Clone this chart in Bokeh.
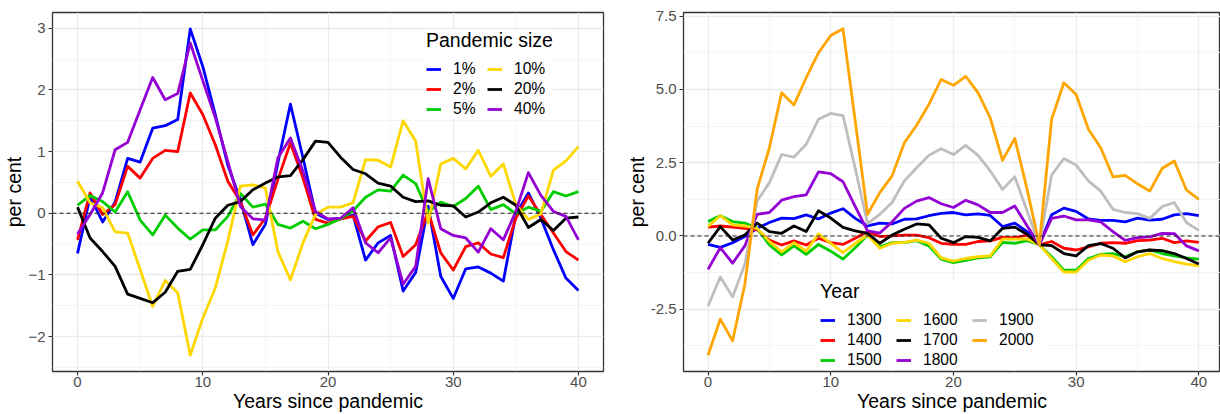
import numpy as np
from bokeh.plotting import figure
from bokeh.models import Range1d, FixedTicker, Legend, LegendItem, Span, NumeralTickFormatter
from bokeh.layouts import row
from bokeh.embed import file_html
from bokeh.resources import INLINE

# ---------------- data ----------------
years = list(range(41))

size_labels = ["1%", "2%", "5%", "10%", "20%", "40%"]
size_colors = ["#0000FF", "#FF0000", "#00CD00", "#FFD700", "#000000", "#9400D3"]
size_1 = [-0.65, 0.27, -0.14, 0.18, 0.89, 0.83, 1.38, 1.42, 1.52, 2.99, 2.38,
          1.6, 0.78, 0.22, -0.51, -0.18, 0.82, 1.77, 0.9, 0.0, -0.1,
          -0.09, -0.03, -0.76, -0.48, -0.36, -1.26, -0.96, 0.11, -1.02, -1.38,
          -0.9, -0.87, -0.97, -1.1, -0.02, 0.33, -0.08, -0.59, -1.05, -1.25]
size_2 = [-0.43, 0.33, -0.02, 0.14, 0.76, 0.57, 0.89, 1.02, 1.0, 1.95, 1.6,
          1.11, 0.52, 0.19, -0.35, -0.08, 0.55, 1.14, 0.57, -0.1, -0.16,
          -0.09, -0.05, -0.45, -0.22, -0.15, -0.7, -0.51, 0.03, -0.64, -0.92,
          -0.54, -0.48, -0.66, -0.72, -0.08, 0.28, -0.02, -0.32, -0.62, -0.76]
size_5 = [0.13, 0.29, 0.19, 0.02, 0.35, -0.11, -0.35, -0.03, -0.24, -0.42, -0.27,
          -0.27, -0.05, 0.32, 0.1, 0.15, -0.18, -0.24, -0.13, -0.25, -0.18,
          -0.09, 0.04, 0.26, 0.38, 0.36, 0.62, 0.48, 0.02, 0.18, 0.11,
          0.24, 0.44, 0.06, 0.14, -0.01, 0.1, 0.03, 0.35, 0.28, 0.35]
size_10 = [0.52, 0.17, 0.09, -0.3, -0.32, -0.91, -1.51, -1.09, -1.29, -2.3, -1.7,
           -1.21, -0.45, 0.44, 0.46, 0.41, -0.62, -1.08, -0.48, -0.02, 0.1,
           0.1, 0.17, 0.87, 0.86, 0.75, 1.5, 1.17, -0.16, 0.8, 0.89,
           0.72, 1.02, 0.6, 0.8, 0.14, -0.1, -0.01, 0.7, 0.85, 1.08]
size_20 = [0.1, -0.4, -0.62, -0.86, -1.31, -1.38, -1.45, -1.28, -0.94, -0.91, -0.51,
           -0.08, 0.13, 0.19, 0.38, 0.49, 0.59, 0.61, 0.87, 1.17, 1.15,
           0.91, 0.71, 0.64, 0.49, 0.44, 0.26, 0.19, 0.2, 0.13, 0.12,
           -0.06, 0.02, 0.17, 0.26, 0.13, -0.23, -0.1, -0.28, -0.08, -0.06]
size_40 = [-0.34, -0.02, 0.33, 1.03, 1.15, 1.68, 2.2, 1.84, 1.94, 2.76, 2.15,
           1.55, 0.84, 0.11, -0.09, -0.11, 0.9, 1.22, 0.68, 0.03, -0.09,
           -0.08, 0.09, -0.48, -0.64, -0.4, -1.15, -0.86, 0.56, -0.25, -0.36,
           -0.4, -0.63, -0.25, -0.43, 0.03, 0.66, 0.29, 0.03, -0.05, -0.43]

year_labels = ["1300", "1400", "1500", "1600", "1700", "1800", "1900", "2000"]
year_colors = ["#0000FF", "#FF0000", "#00CD00", "#FFD700", "#000000", "#9400D3", "#BEBEBE", "#FFA500"]
y1300 = [-0.29, -0.39, -0.23, -0.02, 0.26, 0.46, 0.61, 0.59, 0.72, 0.58, 0.78,
         0.93, 0.6, 0.34, 0.44, 0.41, 0.57, 0.58, 0.69, 0.77, 0.8,
         0.72, 0.75, 0.7, 0.32, 0.44, 0.15, -0.3, 0.72, 0.95, 0.84,
         0.58, 0.53, 0.53, 0.48, 0.61, 0.54, 0.57, 0.72, 0.76, 0.69]
y1400 = [0.3, 0.34, 0.3, 0.26, 0.21, -0.14, -0.31, -0.17, -0.31, -0.08, -0.23,
         -0.29, -0.08, 0.15, -0.02, 0.0, 0.03, 0.03, -0.06, -0.25, -0.29,
         -0.29, -0.19, -0.17, -0.05, -0.06, 0.03, -0.3, -0.19, -0.42, -0.48,
         -0.37, -0.25, -0.23, -0.25, -0.16, -0.14, -0.08, -0.23, -0.17, -0.22]
y1500 = [0.49, 0.69, 0.49, 0.44, 0.26, -0.31, -0.65, -0.34, -0.63, -0.29, -0.52,
         -0.79, -0.4, 0.03, -0.37, -0.23, -0.23, -0.16, -0.34, -0.79, -0.91,
         -0.83, -0.75, -0.71, -0.22, -0.25, -0.16, -0.3, -0.71, -1.17, -1.17,
         -0.77, -0.63, -0.6, -0.71, -0.54, -0.48, -0.6, -0.68, -0.75, -0.79]
y1600 = [0.32, 0.69, 0.38, 0.34, 0.26, -0.19, -0.54, -0.23, -0.52, 0.07, -0.25,
         -0.57, -0.25, 0.03, -0.42, -0.25, -0.22, -0.14, -0.25, -0.75, -0.86,
         -0.77, -0.71, -0.68, -0.11, -0.11, -0.1, -0.3, -0.77, -1.23, -1.23,
         -0.83, -0.65, -0.68, -0.88, -0.71, -0.6, -0.77, -0.88, -0.96, -1.02]
y1700 = [-0.25, 0.32, -0.14, 0.03, 0.44, 0.15, 0.09, 0.34, 0.15, 0.86, 0.61,
         0.29, 0.17, 0.09, -0.25, 0.03, 0.23, 0.41, 0.38, -0.08, -0.23,
         -0.02, -0.05, -0.17, 0.26, 0.3, 0.06, -0.3, -0.33, -0.6, -0.68,
         -0.33, -0.26, -0.42, -0.75, -0.54, -0.48, -0.5, -0.6, -0.77, -0.96]
y1800 = [-1.14, -0.4, -0.93, -0.34, 0.74, 0.8, 1.22, 1.34, 1.4, 2.19, 2.13,
         1.85, 1.0, 0.17, 0.1, 0.48, 0.94, 1.19, 1.31, 1.1, 0.97,
         1.22, 1.06, 0.8, 0.8, 1.02, 0.35, -0.3, 0.6, 0.68, 0.55,
         0.55, 0.48, 0.15, -0.15, -0.06, -0.03, 0.09, 0.08, -0.34, -0.51]
y1900 = [-2.39, -1.4, -2.08, -0.97, 1.19, 1.82, 2.78, 2.69, 3.13, 3.98, 4.18,
         4.11, 2.3, 0.42, 0.74, 1.14, 1.88, 2.33, 2.75, 2.98, 2.78,
         3.09, 2.75, 2.22, 1.59, 2.02, 0.85, -0.3, 2.08, 2.64, 2.42,
         1.88, 1.53, 0.91, 0.8, 0.76, 0.6, 1.0, 1.14, 0.45, 0.19]
y2000 = [-4.07, -2.84, -3.58, -1.65, 1.59, 3.01, 4.89, 4.47, 5.4, 6.25, 6.84,
         7.07, 3.9, 0.74, 1.48, 2.05, 3.18, 3.78, 4.49, 5.34, 5.14,
         5.45, 4.89, 4.03, 2.58, 3.33, 1.6, -0.3, 3.98, 5.23, 4.83,
         3.64, 3.01, 2.02, 2.07, 1.78, 1.53, 2.3, 2.56, 1.56, 1.25]

left_x_ticks = [0, 10, 20, 30, 40]
left_x_minor = [5, 15, 25, 35]
left_y_ticks = [-2, -1, 0, 1, 2, 3]
left_y_minor = [-2.5, -1.5, -0.5, 0.5, 1.5, 2.5]
right_y_ticks = [-2.5, 0, 2.5, 5, 7.5]
right_y_minor = [-3.75, -1.25, 1.25, 3.75, 6.25]

x_title = "Years since pandemic"
y_title = "per cent"

FONT = "Liberation Sans"
TICK_PX = "15px"
LEG_PX = "15.6px"
TITLE_PX = "19.5px"
LW = 2.8


def padded(series_list):
    arr = np.concatenate([np.asarray(s) for s in series_list])
    lo, hi = float(arr.min()), float(arr.max())
    pad = 0.05 * (hi - lo)
    return lo - pad, hi + pad


def make_fig(width, border_left, border_right, x_end, y_lo, y_hi,
             yticks, yminor):
    p = figure(width=width, height=414, output_backend="svg", toolbar_location=None,
               x_range=Range1d(-2, x_end), y_range=Range1d(y_lo, y_hi),
               min_border_left=border_left, min_border_right=border_right,
               min_border_top=12, min_border_bottom=43)
    p.background_fill_color = "white"
    p.border_fill_color = "white"
    p.outline_line_color = "#333333"
    p.outline_line_width = 1.3
    p.xaxis.ticker = FixedTicker(ticks=left_x_ticks, minor_ticks=left_x_minor)
    p.yaxis.ticker = FixedTicker(ticks=yticks, minor_ticks=yminor)
    for g in (p.xgrid, p.ygrid):
        g.grid_line_color = "#EBEBEB"
        g.grid_line_width = 1.3
        g.minor_grid_line_color = "#EFEFEF"
        g.minor_grid_line_width = 0.7
    for ax in (p.xaxis, p.yaxis):
        ax.axis_line_color = None
        ax.major_tick_line_color = "#333333"
        ax.major_tick_line_width = 1.2
        ax.major_tick_out = 4
        ax.major_tick_in = 0
        ax.minor_tick_line_color = None
        ax.major_label_text_font = FONT
        ax.major_label_text_font_size = TICK_PX
        ax.major_label_text_color = "#4D4D4D"
        ax.axis_label_text_font = FONT
        ax.axis_label_text_font_size = TITLE_PX
        ax.axis_label_text_font_style = "normal"
        ax.axis_label_text_color = "black"
        ax.axis_label_standoff = 0
    p.xaxis.major_label_standoff = 1
    p.yaxis.major_label_standoff = 3
    p.xaxis.axis_label = x_title
    p.yaxis.axis_label = y_title
    p.add_layout(Span(location=0, dimension="width", line_color="#222222",
                      line_dash="4 3", line_width=1.1))
    return p


def add_legend(p, items, title, loc, label_width):
    leg = Legend(items=items, location=loc, title=title, nrows=3,
                 orientation="vertical")
    leg.title_text_font = FONT
    leg.title_text_font_size = TITLE_PX
    leg.title_text_font_style = "normal"
    leg.title_text_color = "black"
    leg.title_standoff = 7
    leg.label_text_font = FONT
    leg.label_text_font_size = LEG_PX
    leg.label_text_color = "black"
    leg.glyph_width = 15
    leg.glyph_height = 20
    leg.label_height = 20
    leg.label_width = label_width
    leg.label_standoff = 12
    leg.spacing = 0
    leg.padding = 4
    leg.margin = 0
    leg.border_line_color = None
    leg.background_fill_color = "white"
    leg.background_fill_alpha = 1.0
    p.add_layout(leg)


# ---------------- left panel ----------------
ly0, ly1 = padded([size_1, size_2, size_5, size_10, size_20, size_40])
p1 = make_fig(610, 51, 7, 42, ly0, ly1, left_y_ticks, left_y_minor)
items1 = []
for lab, col, ser in zip(size_labels, size_colors,
                         [size_1, size_2, size_5, size_10, size_20, size_40]):
    r = p1.line(years, ser, line_color=col, line_width=LW, line_join="round")
    items1.append(LegendItem(label=lab, renderers=[r]))
add_legend(p1, items1, "Pandemic size", (374, 252), 34)

# ---------------- right panel ----------------
ry0, ry1 = padded([y1300, y1400, y1500, y1600, y1700, y1800, y1900, y2000])
p2 = make_fig(610, 73, 0, -2 + 537 / 12.27, ry0, ry1, right_y_ticks, right_y_minor)
p2.yaxis.formatter = NumeralTickFormatter(format="0.0")
items2 = []
for lab, col, ser in zip(year_labels, year_colors,
                         [y1300, y1400, y1500, y1600, y1700, y1800, y1900, y2000]):
    r = p2.line(years, ser, line_color=col, line_width=LW, line_join="round")
    items2.append(LegendItem(label=lab, renderers=[r]))
add_legend(p2, items2, "Year", (137, 1), 49)

layout = row(p1, p2)
open("out.html", "w").write(file_html(layout, INLINE))
